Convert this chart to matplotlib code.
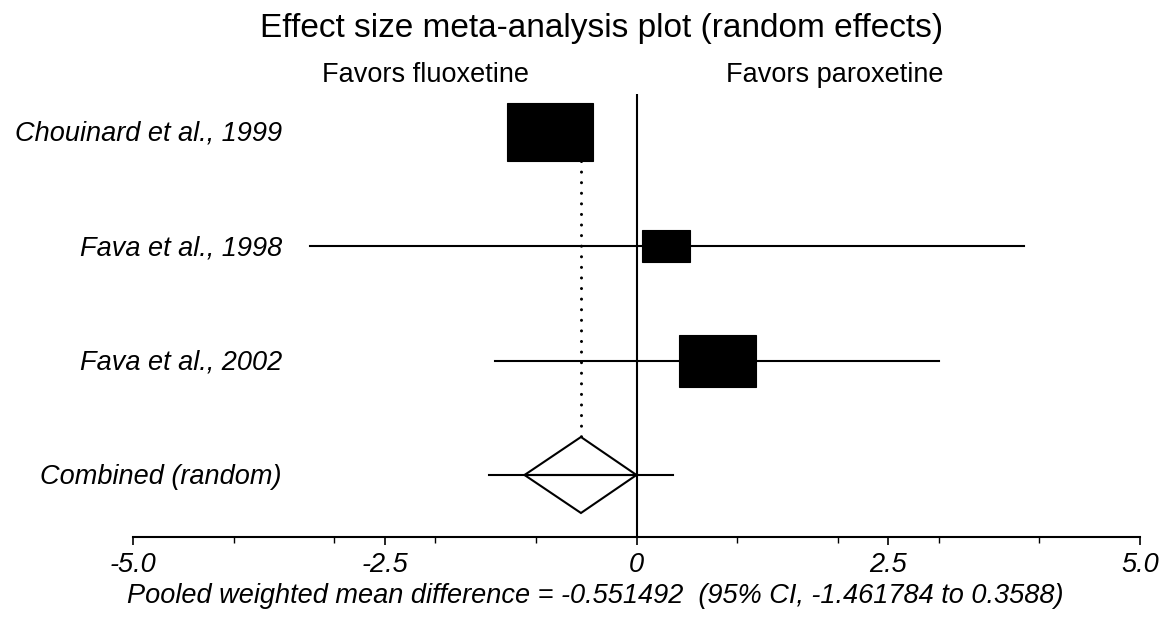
import matplotlib
matplotlib.use("Agg")
import matplotlib.pyplot as plt
from matplotlib.patches import Rectangle, Polygon
import numpy as np

plt.rcParams['font.family'] = ['Liberation Sans', 'DejaVu Sans']

# Study data (mean difference, 95% CI, relative weight %)
studies = ["Chouinard et al., 1999", "Fava et al., 1998", "Fava et al., 2002"]
effects = [-0.859, 0.293, 0.80]
ci_low = [-1.20, -3.247, -1.41]
ci_high = [-0.52, 3.853, 3.00]
weights = [47.1, 14.4, 38.5]

# Pooled (random effects) result
pooled_label = "Combined (random)"
pooled = -0.551492
pooled_low = -1.461784
pooled_high = 0.3588
diamond_low = -1.112
diamond_high = 0.0

xticks = [-5.0, -2.5, 0.0, 2.5, 5.0]
xtick_labels = ["-5.0", "-2.5", "0", "2.5", "5.0"]
minor_ticks = [-4, -3, -2, -1, 1, 2, 3, 4]

W, H = 1165, 617
fig = plt.figure(figsize=(W / 100, H / 100), dpi=100)
ax_l, ax_r, ax_t, ax_b = 133, 1140, 94, 537
ax = fig.add_axes([ax_l / W, 1 - ax_b / H, (ax_r - ax_l) / W, (ax_b - ax_t) / H])

xmin, xmax = -5, 5
row_px = 114.33
y_top = -(132 - ax_t) / row_px
y_bot = 3 + (ax_b - 475) / row_px
ax.set_xlim(xmin, xmax)
ax.set_ylim(y_bot, y_top)

px_per_x = (ax_r - ax_l) / (xmax - xmin)
box_aspect = 0.675  # box height / width in pixels

lw = 1.5
# zero line
ax.plot([0, 0], [y_top, y_bot], color='black', lw=lw, solid_capstyle='butt', zorder=2)

for i, (m, lo, hi, w) in enumerate(zip(effects, ci_low, ci_high, weights)):
    ax.plot([lo, hi], [i, i], color='black', lw=lw, zorder=3)
    width = 0.1232 * np.sqrt(w)
    height = width * px_per_x * box_aspect / row_px
    ax.add_patch(Rectangle((m - width / 2, i - height / 2), width, height,
                           facecolor='black', edgecolor='black', lw=0.8, zorder=4))

k = len(studies)
ax.plot([pooled_low, pooled_high], [k, k], color='black', lw=lw, zorder=3)
dh = 38 / row_px
ax.add_patch(Polygon([[diamond_low, k], [pooled, k - dh], [diamond_high, k], [pooled, k + dh]],
                     closed=True, facecolor='white', edgecolor='black', lw=lw, zorder=2.5))
ax.plot([diamond_low, diamond_high], [k, k], color='black', lw=lw, zorder=3)

# dotted reference line at pooled estimate
first_h = 0.1232 * np.sqrt(weights[0]) * px_per_x * box_aspect / row_px
dot_lw = 2.2
ax.plot([pooled, pooled], [0 + first_h / 2, k - dh], color='black', lw=dot_lw,
        linestyle=(0, (0.01, 7.6 / dot_lw)), dash_capstyle='round', zorder=1)

# axes styling
for s in ['top', 'left', 'right']:
    ax.spines[s].set_visible(False)
ax.spines['bottom'].set_linewidth(lw)
ax.set_yticks([])
ax.set_xticks(xticks)
ax.set_xticklabels(xtick_labels, fontsize=19.5, style='italic')
ax.set_xticks(minor_ticks, minor=True)
ax.tick_params(axis='x', which='major', length=5.5, width=1.2, pad=5)
ax.tick_params(axis='x', which='minor', length=4, width=1.0)

# row labels
for i, name in enumerate(studies + [pooled_label]):
    fig.text(282 / W, 1 - (134 + row_px * i) / H, name, fontsize=19.5, style='italic',
             ha='right', va='center')

fig.text(602 / W, 1 - 29 / H, "Effect size meta-analysis plot (random effects)",
         fontsize=24, ha='center', va='center')
fig.text(425 / W, 1 - 75 / H, "Favors fluoxetine", fontsize=19.5, ha='center', va='center')
fig.text(835 / W, 1 - 75 / H, "Favors paroxetine", fontsize=19.5, ha='center', va='center')
fig.text(595 / W, 1 - 596 / H,
         "Pooled weighted mean difference = -0.551492  (95% CI, -1.461784 to 0.3588)",
         fontsize=19.5, style='italic', ha='center', va='center')

fig.savefig("out.png", dpi=100, facecolor='white')
